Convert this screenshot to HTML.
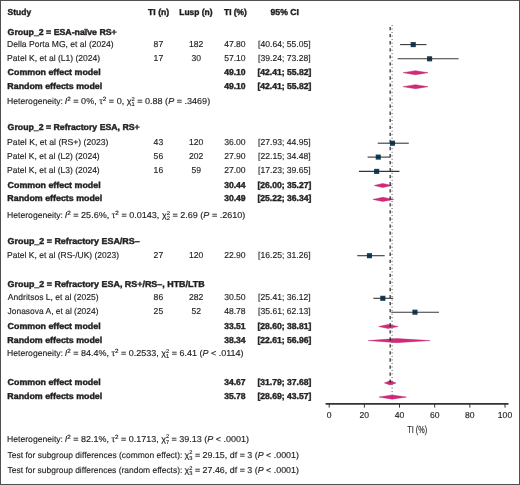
<!DOCTYPE html>
<html><head><meta charset="utf-8"><style>
html,body{margin:0;padding:0;background:#fff;}
svg{display:block;will-change:transform;}
text{text-rendering:geometricPrecision;font-family:"Liberation Sans",sans-serif;font-size:8.6px;fill:#231f20;}
text.b{stroke:#231f20;stroke-width:0.4px;}
text.r{stroke:#231f20;stroke-width:0.15px;}
</style></head><body>
<svg width="520" height="485" viewBox="0 0 520 485">
<rect x="0" y="0" width="520" height="485" fill="#fff"/>
<polygon points="403.06,72.70 415.52,70.65 428.03,72.70 415.52,74.75" fill="#d6287a" stroke="#b01860" stroke-width="0.4" stroke-linejoin="bevel"/>
<polygon points="403.06,86.70 415.52,84.65 428.03,86.70 415.52,88.75" fill="#d6287a" stroke="#b01860" stroke-width="0.4" stroke-linejoin="bevel"/>
<polygon points="374.21,185.50 382.71,183.45 391.90,185.50 382.71,187.55" fill="#d6287a" stroke="#b01860" stroke-width="0.4" stroke-linejoin="bevel"/>
<polygon points="372.84,199.40 382.80,197.35 393.79,199.40 382.80,201.45" fill="#d6287a" stroke="#b01860" stroke-width="0.4" stroke-linejoin="bevel"/>
<polygon points="378.78,326.50 388.11,324.45 398.13,326.50 388.11,328.55" fill="#d6287a" stroke="#b01860" stroke-width="0.4" stroke-linejoin="bevel"/>
<polygon points="368.25,340.60 396.60,338.55 430.04,340.60 396.60,342.65" fill="#d6287a" stroke="#b01860" stroke-width="0.4" stroke-linejoin="bevel"/>
<polygon points="384.39,382.90 390.15,380.85 396.14,382.90 390.15,384.95" fill="#d6287a" stroke="#b01860" stroke-width="0.4" stroke-linejoin="bevel"/>
<polygon points="378.94,397.10 392.10,395.05 406.50,397.10 392.10,399.15" fill="#d6287a" stroke="#b01860" stroke-width="0.4" stroke-linejoin="bevel"/>
<line x1="390.15" y1="27.0" x2="390.15" y2="382.6" stroke="#111" stroke-width="1.1" stroke-dasharray="3.3 3.75"/>
<line x1="392.10" y1="25.0" x2="392.10" y2="396.9" stroke="#555" stroke-width="1" stroke-dasharray="1 2.52"/>
<rect x="410.68" y="42.05" width="5.1" height="5.1" fill="#113f5c"/>
<line x1="400.65" y1="44.60" x2="425.98" y2="44.60" stroke="#222" stroke-width="1.1" stroke-linecap="square" opacity="0.9"/>
<rect x="427.03" y="56.25" width="5.1" height="5.1" fill="#113f5c"/>
<line x1="398.18" y1="58.80" x2="458.03" y2="58.80" stroke="#222" stroke-width="1.1" stroke-linecap="square" opacity="0.9"/>
<rect x="389.94" y="140.65" width="5.1" height="5.1" fill="#113f5c"/>
<line x1="378.30" y1="143.20" x2="408.22" y2="143.20" stroke="#222" stroke-width="1.1" stroke-linecap="square" opacity="0.9"/>
<rect x="375.70" y="154.55" width="5.1" height="5.1" fill="#113f5c"/>
<line x1="368.14" y1="157.10" x2="389.82" y2="157.10" stroke="#222" stroke-width="1.1" stroke-linecap="square" opacity="0.9"/>
<rect x="374.12" y="168.85" width="5.1" height="5.1" fill="#113f5c"/>
<line x1="359.49" y1="171.40" x2="398.90" y2="171.40" stroke="#222" stroke-width="1.1" stroke-linecap="square" opacity="0.9"/>
<rect x="366.91" y="253.15" width="5.1" height="5.1" fill="#113f5c"/>
<line x1="357.77" y1="255.70" x2="384.16" y2="255.70" stroke="#222" stroke-width="1.1" stroke-linecap="square" opacity="0.9"/>
<rect x="380.27" y="295.75" width="5.1" height="5.1" fill="#113f5c"/>
<line x1="373.87" y1="298.30" x2="392.70" y2="298.30" stroke="#222" stroke-width="1.1" stroke-linecap="square" opacity="0.9"/>
<rect x="412.41" y="309.65" width="5.1" height="5.1" fill="#113f5c"/>
<line x1="391.80" y1="312.20" x2="438.42" y2="312.20" stroke="#222" stroke-width="1.1" stroke-linecap="square" opacity="0.9"/>
<line x1="325.6" y1="403.9" x2="508.5" y2="403.9" stroke="#333" stroke-width="1.6"/>
<line x1="329.20" y1="403.9" x2="329.20" y2="407.59999999999997" stroke="#333" stroke-width="1"/>
<line x1="364.36" y1="403.9" x2="364.36" y2="407.59999999999997" stroke="#333" stroke-width="1"/>
<line x1="399.52" y1="403.9" x2="399.52" y2="407.59999999999997" stroke="#333" stroke-width="1"/>
<line x1="434.68" y1="403.9" x2="434.68" y2="407.59999999999997" stroke="#333" stroke-width="1"/>
<line x1="469.84" y1="403.9" x2="469.84" y2="407.59999999999997" stroke="#333" stroke-width="1"/>
<line x1="505.00" y1="403.9" x2="505.00" y2="407.59999999999997" stroke="#333" stroke-width="1"/>
<text class="b" id="t1" x="7.60" y="14.80" font-weight="bold" textLength="23.53" lengthAdjust="spacingAndGlyphs">Study</text>
<text class="b" id="t2" x="158.65" y="14.80" text-anchor="middle" font-weight="bold" textLength="21.15" lengthAdjust="spacingAndGlyphs">TI (n)</text>
<text class="b" id="t3" x="195.90" y="14.80" text-anchor="middle" font-weight="bold" textLength="33.23" lengthAdjust="spacingAndGlyphs">Lusp (n)</text>
<text class="b" id="t4" x="235.45" y="14.80" text-anchor="middle" font-weight="bold" textLength="22.84" lengthAdjust="spacingAndGlyphs">TI (%)</text>
<text class="b" id="t5" x="284.70" y="14.80" text-anchor="middle" font-weight="bold" textLength="28.40" lengthAdjust="spacingAndGlyphs">95% CI</text>
<text class="b" id="t6" x="7.60" y="34.60" font-weight="bold" textLength="109.14" lengthAdjust="spacingAndGlyphs">Group_2 = ESA-naïve RS+</text>
<text class="b" id="t7" x="7.60" y="129.75" font-weight="bold" textLength="132.11" lengthAdjust="spacingAndGlyphs">Group_2 = Refractory ESA, RS+</text>
<text class="b" id="t8" x="7.60" y="244.10" font-weight="bold" textLength="132.09" lengthAdjust="spacingAndGlyphs">Group_2 = Refractory ESA/RS–</text>
<text class="b" id="t9" x="7.60" y="287.00" font-weight="bold" textLength="197.12" lengthAdjust="spacingAndGlyphs">Group_2 = Refractory ESA, RS+/RS–, HTB/LTB</text>
<text class="r" id="t10" x="7.10" y="46.60" textLength="106.55" lengthAdjust="spacingAndGlyphs">Della Porta MG, et al (2024)</text>
<text class="r" id="t11" x="158.40" y="46.60" text-anchor="middle">87</text>
<text class="r" id="t12" x="196.20" y="46.60" text-anchor="middle">182</text>
<text class="r" id="t13" x="234.90" y="46.60" text-anchor="middle">47.80</text>
<text class="r" id="t14" x="284.40" y="46.60" text-anchor="middle">[40.64; 55.05]</text>
<text class="r" id="t15" x="7.10" y="60.80" textLength="93.12" lengthAdjust="spacingAndGlyphs">Patel K, et al (L1) (2024)</text>
<text class="r" id="t16" x="158.40" y="60.80" text-anchor="middle">17</text>
<text class="r" id="t17" x="196.20" y="60.80" text-anchor="middle">30</text>
<text class="r" id="t18" x="234.90" y="60.80" text-anchor="middle">57.10</text>
<text class="r" id="t19" x="284.40" y="60.80" text-anchor="middle">[39.24; 73.28]</text>
<text class="b" id="t20" x="7.60" y="74.70" font-weight="bold" textLength="93.02" lengthAdjust="spacingAndGlyphs">Common effect model</text>
<text class="b" id="t21" x="234.90" y="74.70" text-anchor="middle" font-weight="bold">49.10</text>
<text class="b" id="t22" x="284.40" y="74.70" text-anchor="middle" font-weight="bold">[42.41; 55.82]</text>
<text class="b" id="t23" x="7.35" y="88.70" font-weight="bold" textLength="94.85" lengthAdjust="spacingAndGlyphs">Random effects model</text>
<text class="b" id="t24" x="234.90" y="88.70" text-anchor="middle" font-weight="bold">49.10</text>
<text class="b" id="t25" x="284.40" y="88.70" text-anchor="middle" font-weight="bold">[42.41; 55.82]</text>
<text class="r" id="t26" x="7.10" y="145.20" textLength="101.39" lengthAdjust="spacingAndGlyphs">Patel K, et al (RS+) (2023)</text>
<text class="r" id="t27" x="158.40" y="145.20" text-anchor="middle">43</text>
<text class="r" id="t28" x="196.20" y="145.20" text-anchor="middle">120</text>
<text class="r" id="t29" x="234.90" y="145.20" text-anchor="middle">36.00</text>
<text class="r" id="t30" x="284.40" y="145.20" text-anchor="middle">[27.93; 44.95]</text>
<text class="r" id="t31" x="7.10" y="159.10" textLength="92.61" lengthAdjust="spacingAndGlyphs">Patel K, et al (L2) (2024)</text>
<text class="r" id="t32" x="158.40" y="159.10" text-anchor="middle">56</text>
<text class="r" id="t33" x="196.20" y="159.10" text-anchor="middle">202</text>
<text class="r" id="t34" x="234.90" y="159.10" text-anchor="middle">27.90</text>
<text class="r" id="t35" x="284.40" y="159.10" text-anchor="middle">[22.15; 34.48]</text>
<text class="r" id="t36" x="7.10" y="173.40" textLength="92.61" lengthAdjust="spacingAndGlyphs">Patel K, et al (L3) (2024)</text>
<text class="r" id="t37" x="158.40" y="173.40" text-anchor="middle">16</text>
<text class="r" id="t38" x="196.20" y="173.40" text-anchor="middle">59</text>
<text class="r" id="t39" x="234.90" y="173.40" text-anchor="middle">27.00</text>
<text class="r" id="t40" x="284.40" y="173.40" text-anchor="middle">[17.23; 39.65]</text>
<text class="b" id="t41" x="7.60" y="187.50" font-weight="bold" textLength="93.02" lengthAdjust="spacingAndGlyphs">Common effect model</text>
<text class="b" id="t42" x="234.90" y="187.50" text-anchor="middle" font-weight="bold">30.44</text>
<text class="b" id="t43" x="284.40" y="187.50" text-anchor="middle" font-weight="bold">[26.00; 35.27]</text>
<text class="b" id="t44" x="7.35" y="201.40" font-weight="bold" textLength="94.85" lengthAdjust="spacingAndGlyphs">Random effects model</text>
<text class="b" id="t45" x="234.90" y="201.40" text-anchor="middle" font-weight="bold">30.49</text>
<text class="b" id="t46" x="284.40" y="201.40" text-anchor="middle" font-weight="bold">[25.22; 36.34]</text>
<text class="r" id="t47" x="7.10" y="257.70" textLength="111.99" lengthAdjust="spacingAndGlyphs">Patel K, et al (RS-/UK) (2023)</text>
<text class="r" id="t48" x="158.40" y="257.70" text-anchor="middle">27</text>
<text class="r" id="t49" x="196.20" y="257.70" text-anchor="middle">120</text>
<text class="r" id="t50" x="234.90" y="257.70" text-anchor="middle">22.90</text>
<text class="r" id="t51" x="284.40" y="257.70" text-anchor="middle">[16.25; 31.26]</text>
<text class="r" id="t52" x="7.85" y="300.30" textLength="90.70" lengthAdjust="spacingAndGlyphs">Andritsos L, et al (2025)</text>
<text class="r" id="t53" x="158.40" y="300.30" text-anchor="middle">86</text>
<text class="r" id="t54" x="196.20" y="300.30" text-anchor="middle">282</text>
<text class="r" id="t55" x="234.90" y="300.30" text-anchor="middle">30.50</text>
<text class="r" id="t56" x="284.40" y="300.30" text-anchor="middle">[25.41; 36.12]</text>
<text class="r" id="t57" x="7.60" y="314.20" textLength="90.87" lengthAdjust="spacingAndGlyphs">Jonasova A, et al (2024)</text>
<text class="r" id="t58" x="158.40" y="314.20" text-anchor="middle">25</text>
<text class="r" id="t59" x="196.20" y="314.20" text-anchor="middle">52</text>
<text class="r" id="t60" x="234.90" y="314.20" text-anchor="middle">48.78</text>
<text class="r" id="t61" x="284.40" y="314.20" text-anchor="middle">[35.61; 62.13]</text>
<text class="b" id="t62" x="7.60" y="328.50" font-weight="bold" textLength="93.02" lengthAdjust="spacingAndGlyphs">Common effect model</text>
<text class="b" id="t63" x="234.90" y="328.50" text-anchor="middle" font-weight="bold">33.51</text>
<text class="b" id="t64" x="284.40" y="328.50" text-anchor="middle" font-weight="bold">[28.60; 38.81]</text>
<text class="b" id="t65" x="7.35" y="342.60" font-weight="bold" textLength="94.85" lengthAdjust="spacingAndGlyphs">Random effects model</text>
<text class="b" id="t66" x="234.90" y="342.60" text-anchor="middle" font-weight="bold">38.34</text>
<text class="b" id="t67" x="284.40" y="342.60" text-anchor="middle" font-weight="bold">[22.61; 56.96]</text>
<text class="b" id="t68" x="7.60" y="384.90" font-weight="bold" textLength="93.02" lengthAdjust="spacingAndGlyphs">Common effect model</text>
<text class="b" id="t69" x="234.90" y="384.90" text-anchor="middle" font-weight="bold">34.67</text>
<text class="b" id="t70" x="284.40" y="384.90" text-anchor="middle" font-weight="bold">[31.79; 37.68]</text>
<text class="b" id="t71" x="7.35" y="399.10" font-weight="bold" textLength="94.85" lengthAdjust="spacingAndGlyphs">Random effects model</text>
<text class="b" id="t72" x="234.90" y="399.10" text-anchor="middle" font-weight="bold">35.78</text>
<text class="b" id="t73" x="284.40" y="399.10" text-anchor="middle" font-weight="bold">[28.69; 43.57]</text>
<text class="r" id="t74" x="7.10" y="104.10" textLength="55.91" lengthAdjust="spacingAndGlyphs">Heterogeneity:</text>
<text class="r" id="t75" x="64.75" y="104.10" textLength="145.43" lengthAdjust="spacingAndGlyphs"><tspan font-style="italic">I</tspan><tspan font-size="6" dy="-3">2</tspan><tspan dy="3"> = 0%, τ</tspan><tspan font-size="6" dy="-3">2</tspan><tspan dy="3"> = 0, χ</tspan><tspan font-size="5.5" dy="-3.2">2</tspan><tspan font-size="5.5" dx="-3.06" dy="5.2">1</tspan><tspan dy="-2"> = 0.88 (</tspan><tspan font-style="italic">P</tspan> = .3469)</text>
<text class="r" id="t76" x="7.10" y="217.80" textLength="55.91" lengthAdjust="spacingAndGlyphs">Heterogeneity:</text>
<text class="r" id="t77" x="64.75" y="217.80" textLength="180.60" lengthAdjust="spacingAndGlyphs"><tspan font-style="italic">I</tspan><tspan font-size="6" dy="-3">2</tspan><tspan dy="3"> = 25.6%, τ</tspan><tspan font-size="6" dy="-3">2</tspan><tspan dy="3"> = 0.0143, χ</tspan><tspan font-size="5.5" dy="-3.2">2</tspan><tspan font-size="5.5" dx="-3.06" dy="5.2">2</tspan><tspan dy="-2"> = 2.69 (</tspan><tspan font-style="italic">P</tspan> = .2610)</text>
<text class="r" id="t78" x="7.10" y="356.10" textLength="55.91" lengthAdjust="spacingAndGlyphs">Heterogeneity:</text>
<text class="r" id="t79" x="64.75" y="356.10" textLength="178.73" lengthAdjust="spacingAndGlyphs"><tspan font-style="italic">I</tspan><tspan font-size="6" dy="-3">2</tspan><tspan dy="3"> = 84.4%, τ</tspan><tspan font-size="6" dy="-3">2</tspan><tspan dy="3"> = 0.2533, χ</tspan><tspan font-size="5.5" dy="-3.2">2</tspan><tspan font-size="5.5" dx="-3.06" dy="5.2">1</tspan><tspan dy="-2"> = 6.41 (</tspan><tspan font-style="italic">P</tspan> &lt; .0114)</text>
<text class="r" id="t80" x="7.10" y="441.60" textLength="55.91" lengthAdjust="spacingAndGlyphs">Heterogeneity:</text>
<text class="r" id="t81" x="64.75" y="441.60" textLength="184.30" lengthAdjust="spacingAndGlyphs"><tspan font-style="italic">I</tspan><tspan font-size="6" dy="-3">2</tspan><tspan dy="3"> = 82.1%, τ</tspan><tspan font-size="6" dy="-3">2</tspan><tspan dy="3"> = 0.1713, χ</tspan><tspan font-size="5.5" dy="-3.2">2</tspan><tspan font-size="5.5" dx="-3.06" dy="5.2">7</tspan><tspan dy="-2"> = 39.13 (</tspan><tspan font-style="italic">P</tspan> &lt; .0001)</text>
<text class="r" id="t82" x="7.60" y="457.50" textLength="174.76" lengthAdjust="spacingAndGlyphs">Test for subgroup differences (common effect):</text>
<text class="r" id="t83" x="184.60" y="457.50" textLength="114.39" lengthAdjust="spacingAndGlyphs">χ<tspan font-size="5.5" dy="-3.2">2</tspan><tspan font-size="5.5" dx="-3.06" dy="5.2">3</tspan><tspan dy="-2"> = 29.15, df = 3 (</tspan><tspan font-style="italic">P</tspan> &lt; .0001)</text>
<text class="r" id="t84" x="7.60" y="473.20" textLength="174.74" lengthAdjust="spacingAndGlyphs">Test for subgroup differences (random effects):</text>
<text class="r" id="t85" x="184.60" y="473.20" textLength="114.39" lengthAdjust="spacingAndGlyphs">χ<tspan font-size="5.5" dy="-3.2">2</tspan><tspan font-size="5.5" dx="-3.06" dy="5.2">3</tspan><tspan dy="-2"> = 27.46, df = 3 (</tspan><tspan font-style="italic">P</tspan> &lt; .0001)</text>
<text class="r" id="t86" x="329.20" y="417.80" text-anchor="middle">0</text>
<text class="r" id="t87" x="364.36" y="417.80" text-anchor="middle">20</text>
<text class="r" id="t88" x="399.52" y="417.80" text-anchor="middle">40</text>
<text class="r" id="t89" x="434.68" y="417.80" text-anchor="middle">60</text>
<text class="r" id="t90" x="469.84" y="417.80" text-anchor="middle">80</text>
<text class="r" id="t91" x="505.00" y="417.80" text-anchor="middle">100</text>
<text class="r" id="t92" x="417.25" y="432.60" text-anchor="middle" style="font-size:10.2px" textLength="19.92" lengthAdjust="spacingAndGlyphs">TI (%)</text>
<rect x="0.5" y="0.5" width="519" height="484" fill="none" stroke="#505050" stroke-width="1"/>
</svg>
</body></html>
